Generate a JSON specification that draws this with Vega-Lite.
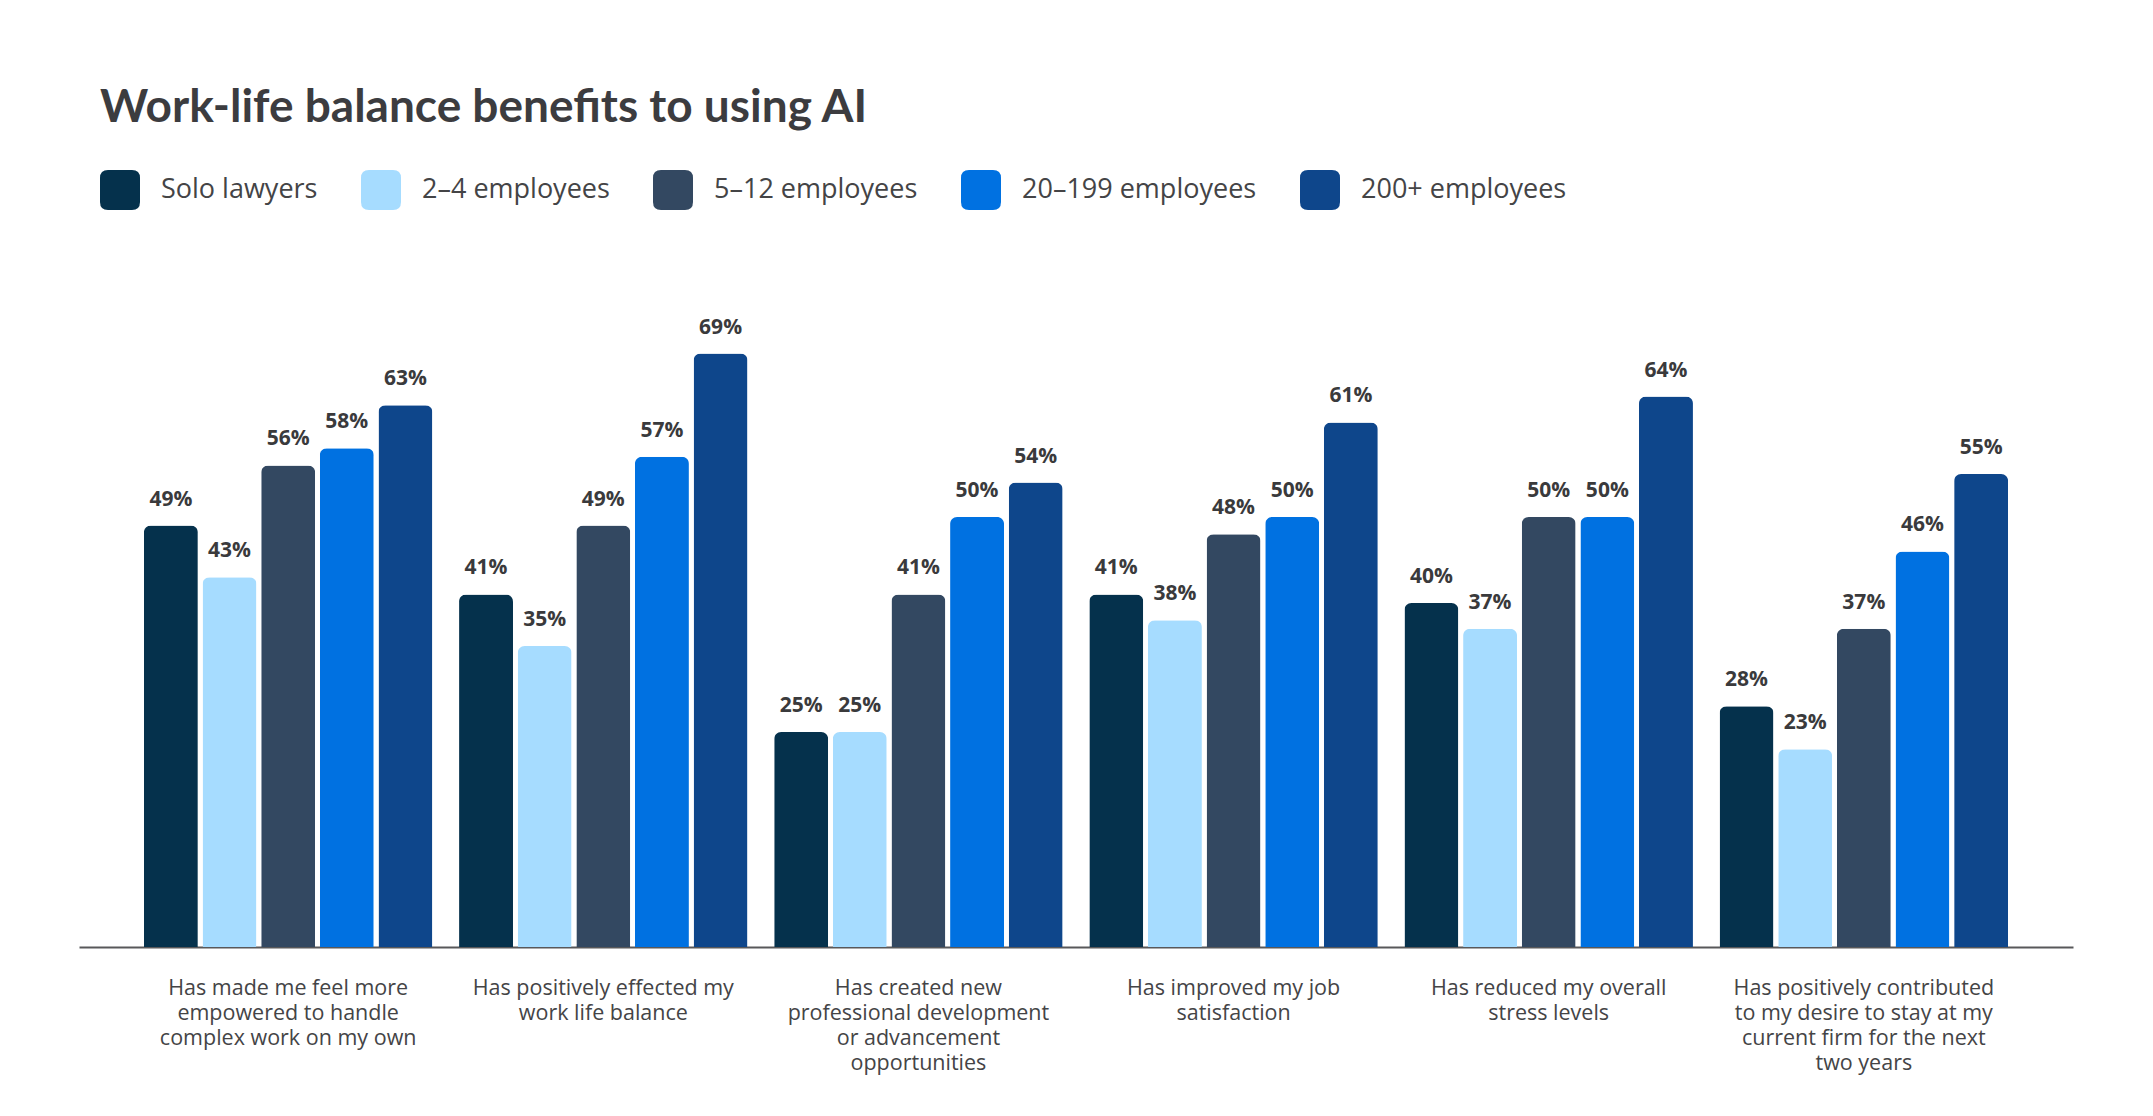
{
  "$schema": "https://vega.github.io/schema/vega-lite/v6.json",
  "autosize": {"type": "none"},
  "width": 1994,
  "height": 645,
  "padding": {"left": 79, "top": 302, "right": 80, "bottom": 169},
  "background": "white",
  "config": {"view": {"stroke": null}},
  "title": {
    "text": "Work-life balance benefits to using AI",
    "anchor": "start",
    "frame": "group",
    "dx": 21,
    "offset": 2,
    "baseline": "alphabetic",
    "font": "Lato",
    "fontSize": 46,
    "fontWeight": "bold",
    "color": "#3c3c3f"
  },
  "data": {
    "values": [
      {"question": "Has made me feel more|empowered to handle|complex work on my own", "size": "Solo lawyers", "pct": 0.49},
      {"question": "Has made me feel more|empowered to handle|complex work on my own", "size": "2–4 employees", "pct": 0.43},
      {"question": "Has made me feel more|empowered to handle|complex work on my own", "size": "5–12 employees", "pct": 0.56},
      {"question": "Has made me feel more|empowered to handle|complex work on my own", "size": "20–199 employees", "pct": 0.58},
      {"question": "Has made me feel more|empowered to handle|complex work on my own", "size": "200+ employees", "pct": 0.63},
      {"question": "Has positively effected my|work life balance", "size": "Solo lawyers", "pct": 0.41},
      {"question": "Has positively effected my|work life balance", "size": "2–4 employees", "pct": 0.35},
      {"question": "Has positively effected my|work life balance", "size": "5–12 employees", "pct": 0.49},
      {"question": "Has positively effected my|work life balance", "size": "20–199 employees", "pct": 0.57},
      {"question": "Has positively effected my|work life balance", "size": "200+ employees", "pct": 0.69},
      {"question": "Has created new|professional development|or advancement|opportunities", "size": "Solo lawyers", "pct": 0.25},
      {"question": "Has created new|professional development|or advancement|opportunities", "size": "2–4 employees", "pct": 0.25},
      {"question": "Has created new|professional development|or advancement|opportunities", "size": "5–12 employees", "pct": 0.41},
      {"question": "Has created new|professional development|or advancement|opportunities", "size": "20–199 employees", "pct": 0.50},
      {"question": "Has created new|professional development|or advancement|opportunities", "size": "200+ employees", "pct": 0.54},
      {"question": "Has improved my job|satisfaction", "size": "Solo lawyers", "pct": 0.41},
      {"question": "Has improved my job|satisfaction", "size": "2–4 employees", "pct": 0.38},
      {"question": "Has improved my job|satisfaction", "size": "5–12 employees", "pct": 0.48},
      {"question": "Has improved my job|satisfaction", "size": "20–199 employees", "pct": 0.50},
      {"question": "Has improved my job|satisfaction", "size": "200+ employees", "pct": 0.61},
      {"question": "Has reduced my overall|stress levels", "size": "Solo lawyers", "pct": 0.40},
      {"question": "Has reduced my overall|stress levels", "size": "2–4 employees", "pct": 0.37},
      {"question": "Has reduced my overall|stress levels", "size": "5–12 employees", "pct": 0.50},
      {"question": "Has reduced my overall|stress levels", "size": "20–199 employees", "pct": 0.50},
      {"question": "Has reduced my overall|stress levels", "size": "200+ employees", "pct": 0.64},
      {"question": "Has positively contributed|to my desire to stay at my|current firm for the next|two years", "size": "Solo lawyers", "pct": 0.28},
      {"question": "Has positively contributed|to my desire to stay at my|current firm for the next|two years", "size": "2–4 employees", "pct": 0.23},
      {"question": "Has positively contributed|to my desire to stay at my|current firm for the next|two years", "size": "5–12 employees", "pct": 0.37},
      {"question": "Has positively contributed|to my desire to stay at my|current firm for the next|two years", "size": "20–199 employees", "pct": 0.46},
      {"question": "Has positively contributed|to my desire to stay at my|current firm for the next|two years", "size": "200+ employees", "pct": 0.55}
    ]
  },
  "encoding": {
    "x": {
      "field": "question",
      "type": "nominal",
      "sort": null,
      "scale": {"paddingInner": 0.0845, "paddingOuter": 0.206},
      "axis": {
        "title": null,
        "labelAngle": 0,
        "labelExpr": "split(datum.label, '|')",
        "labelFont": "Open Sans",
        "labelFontSize": 21.5,
        "labelLineHeight": 25,
        "labelColor": "#444446",
        "labelPadding": 30,
        "labelBaseline": "top",
        "labelLimit": 400,
        "ticks": false,
        "domainColor": "#58585a",
        "domainWidth": 2,
        "grid": false
      }
    },
    "xOffset": {
      "field": "size",
      "type": "nominal",
      "sort": ["Solo lawyers", "2–4 employees", "5–12 employees", "20–199 employees", "200+ employees"],
      "scale": {"paddingInner": 0.08, "paddingOuter": 0}
    },
    "y": {
      "field": "pct",
      "type": "quantitative",
      "scale": {"domain": [0, 0.75]},
      "axis": null
    }
  },
  "layer": [
    {
      "mark": {"type": "bar", "cornerRadiusTopLeft": 7, "cornerRadiusTopRight": 7},
      "encoding": {
        "color": {
          "field": "size",
          "type": "nominal",
          "scale": {
            "domain": ["Solo lawyers", "2–4 employees", "5–12 employees", "20–199 employees", "200+ employees"],
            "range": ["#05314c", "#a6dcff", "#334861", "#0071e1", "#0e468b"]
          },
          "legend": {
            "title": null,
            "orient": "none",
            "direction": "horizontal",
            "columns": 5,
            "legendX": 21,
            "legendY": -132,
            "padding": 0,
            "columnPadding": 43,
            "symbolType": "M-0.6,-1L0.6,-1Q1,-1 1,-0.6L1,0.6Q1,1 0.6,1L-0.6,1Q-1,1 -1,0.6L-1,-0.6Q-1,-1 -0.6,-1Z",
            "symbolSize": 1600,
            "symbolStrokeWidth": 0,
            "symbolOpacity": 1,
            "labelOffset": 21,
            "labelFont": "Open Sans",
            "labelFontSize": 27,
            "labelColor": "#444446",
            "labelLimit": 400
          }
        }
      }
    },
    {
      "mark": {
        "type": "text",
        "baseline": "alphabetic",
        "dy": -20,
        "font": "Open Sans",
        "fontSize": 21,
        "fontWeight": "bold",
        "color": "#3a3a3c"
      },
      "encoding": {
        "text": {"field": "pct", "type": "quantitative", "format": ".0%"}
      }
    }
  ]
}
